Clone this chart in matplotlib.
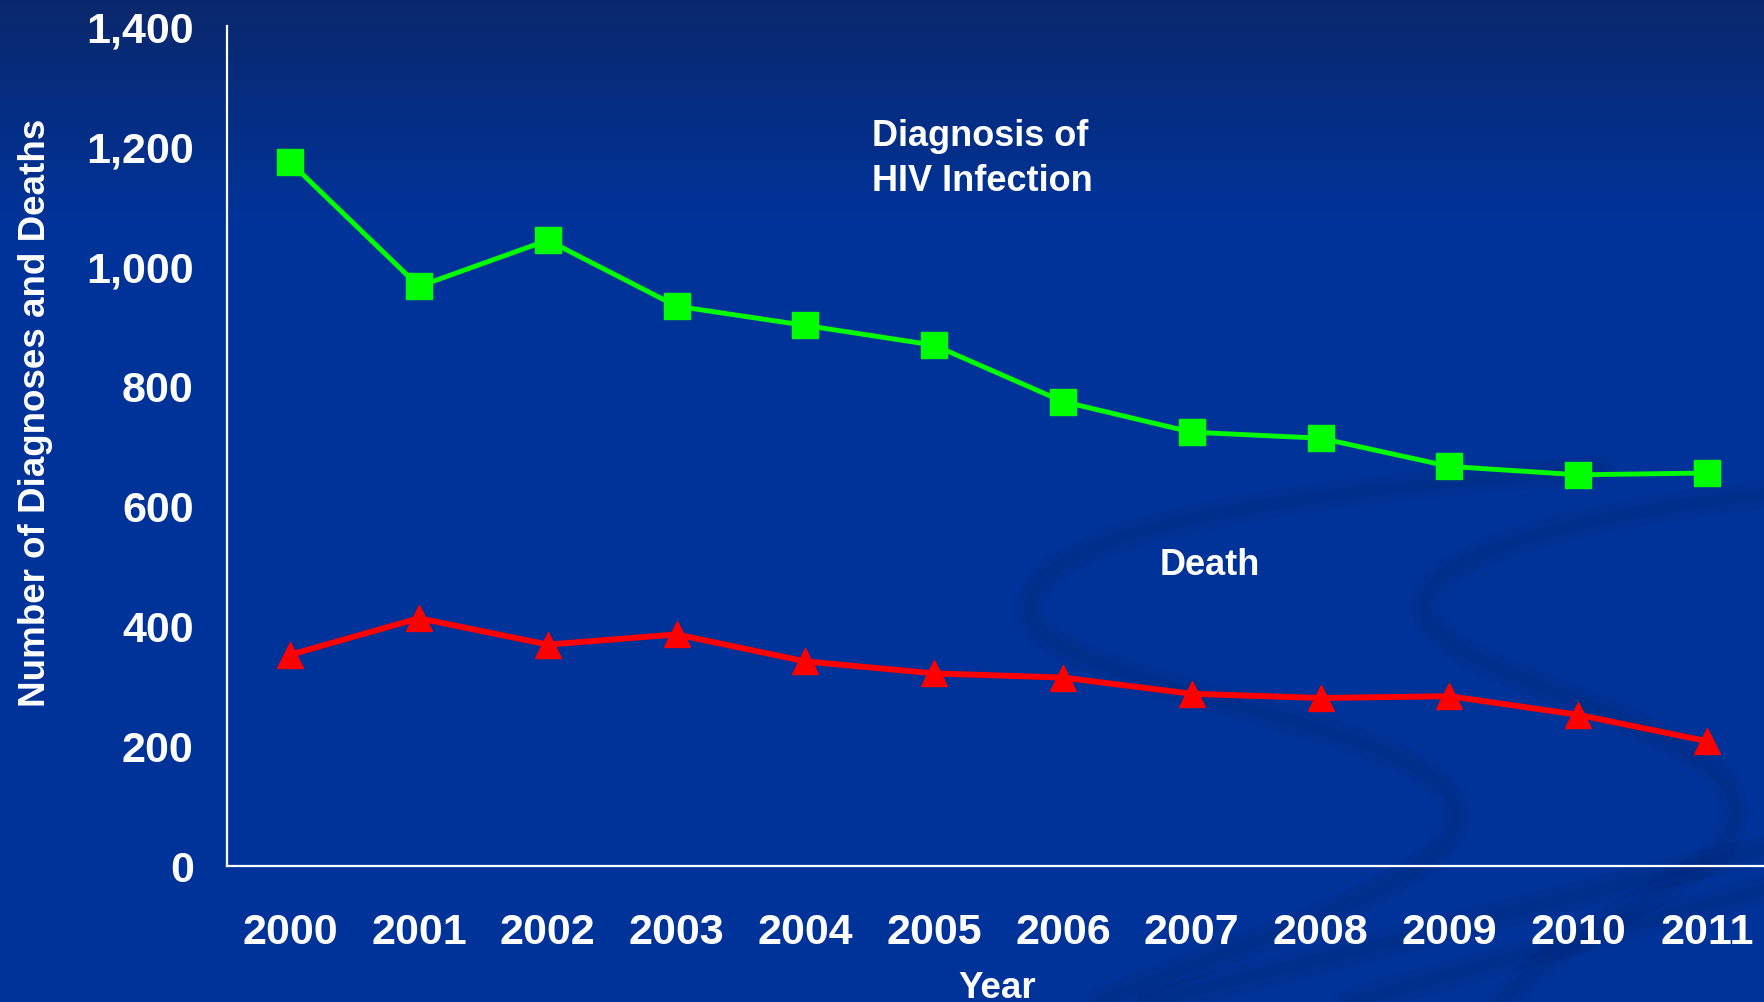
import numpy as np
import matplotlib
matplotlib.use("Agg")
import matplotlib.pyplot as plt
from matplotlib.path import Path
from matplotlib.patches import PathPatch
from matplotlib.colors import LinearSegmentedColormap

plt.rcParams['font.family'] = ['Liberation Sans', 'DejaVu Sans']
plt.rcParams['font.weight'] = 'bold'

# Yearly counts
years = [2000, 2001, 2002, 2003, 2004, 2005, 2006, 2007, 2008, 2009, 2010, 2011]
diagnoses = [1173, 966, 1043, 933, 901, 868, 774, 723, 713, 666, 652, 655]
deaths = [352, 413, 369, 386, 341, 321, 314, 287, 280, 283, 252, 208]
y_ticks = [0, 200, 400, 600, 800, 1000, 1200, 1400]

W, H = 1765, 1003
fig = plt.figure(figsize=(W / 100, H / 100), dpi=100)

# Slide-style background: dark navy fading into royal blue, with faint swirls
bg = fig.add_axes([0, 0, 1, 1], zorder=0)
bg.set_xlim(0, W)
bg.set_ylim(H, 0)
bg.axis('off')
grad = np.clip(np.linspace(0, 1, H) / 0.22, 0, 1)[:, None]
cmap = LinearSegmentedColormap.from_list('bgblue', ['#0a286c', '#003399'])
bg.imshow(grad, cmap=cmap, aspect='auto', extent=[0, W, H, 0], zorder=0)

C4 = Path.CURVE4
swirls = [
    ([(1600, 470), (1350, 490), (1030, 520), (1030, 610),
      (1030, 690), (1440, 720), (1455, 810),
      (1470, 880), (1250, 940), (1100, 1003)],
     [Path.MOVETO, C4, C4, C4, C4, C4, C4, C4, C4, C4]),
    ([(1765, 495), (1550, 520), (1420, 560), (1425, 610),
      (1430, 680), (1730, 720), (1735, 810),
      (1740, 880), (1600, 900), (1500, 1003)],
     [Path.MOVETO, C4, C4, C4, C4, C4, C4, C4, C4, C4]),
    ([(1765, 850), (1150, 1003)], [Path.MOVETO, Path.LINETO]),
    ([(1765, 890), (1350, 1003)], [Path.MOVETO, Path.LINETO]),
]
for verts, codes in swirls:
    bg.add_patch(PathPatch(Path(verts, codes), facecolor='none',
                           edgecolor='#00226a', lw=20, alpha=0.16,
                           capstyle='round', zorder=1))
    bg.add_patch(PathPatch(Path(verts, codes), facecolor='none',
                           edgecolor='#00226a', lw=8, alpha=0.14,
                           capstyle='round', zorder=1))

# Main plot area
ax = fig.add_axes([227 / W, 1 - 867 / H, 1 - 227 / W, (867 - 27) / H], zorder=2)
ax.patch.set_alpha(0)

ax.plot(years, diagnoses, color='#00ff00', lw=3.5, marker='s', ms=19,
        markeredgecolor='#00ff00', clip_on=False)
ax.plot(years, deaths, color='#ff0000', lw=4.3, marker='^', ms=19,
        markeredgecolor='#ff0000', clip_on=False)

ax.set_xlim(1999.51, 2011.45)
ax.set_ylim(0, 1400)
ax.set_xticks(years)
ax.set_xticklabels([str(y) for y in years])
ax.set_yticks(y_ticks)
ax.set_yticklabels([f'{v:,}' for v in y_ticks])
ax.tick_params(axis='both', length=0, colors='white', labelsize=31)
ax.tick_params(axis='y', pad=24)
ax.tick_params(axis='x', pad=33)
for lab in ax.get_xticklabels() + ax.get_yticklabels():
    lab.set_fontweight('bold')

for side in ['top', 'right']:
    ax.spines[side].set_visible(False)
for side in ['left', 'bottom']:
    ax.spines[side].set_color('white')
    ax.spines[side].set_linewidth(1.6)

ax.text(2004.52, 1180, 'Diagnosis of\nHIV Infection', color='white',
        fontsize=26, fontweight='bold', ha='left', va='center', linespacing=1.38)
ax.text(2007.14, 502, 'Death', color='white', fontsize=26,
        fontweight='bold', ha='center', va='center')

fig.text(36 / W, 1 - 413 / H, 'Number of Diagnoses and Deaths', color='white',
         fontsize=26.5, fontweight='bold', rotation=90, ha='center', va='center')
fig.text(997 / W, 1 - 998 / H, 'Year', color='white', fontsize=26.5,
         fontweight='bold', ha='center', va='baseline')

fig.savefig('out.png', dpi=100)
